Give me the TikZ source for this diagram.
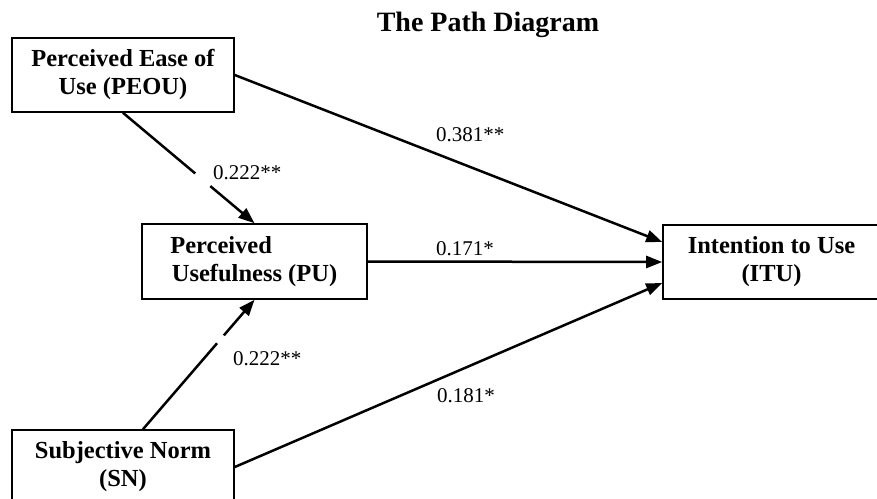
\documentclass[tikz,border=0pt]{standalone}
\usepackage{fontspec}
\setmainfont{Liberation Serif}
\usetikzlibrary{arrows.meta,calc}
\begin{document}
\begin{tikzpicture}[x=1pt,y=-1pt,
  box/.style={draw,line width=1.6pt,rectangle,align=center,inner sep=0pt,
    font=\fontsize{24.5}{28}\selectfont\bfseries},
  conn/.style={line width=2.5pt},
  arr/.style={conn,-{Triangle[length=16pt,width=12pt]}},
  lbl/.style={anchor=base west,inner sep=0pt,font=\fontsize{21}{24}\selectfont}]
\useasboundingbox (0,0) rectangle (877,498);
\clip (0,0) rectangle (877,498);
\fill[white] (0,0) rectangle (877,498);
\node[anchor=base,inner sep=0pt,font=\fontsize{28}{34}\selectfont\bfseries] (title) at (488,31) {The Path Diagram};
\node[box,minimum width=222pt,minimum height=74pt,text depth=6pt] (peou) at (123,75) {Perceived Ease of\\Use (PEOU)};
\node[box,minimum width=225pt,minimum height=75pt,text depth=6pt] (pu) at (254.5,261.5) {Perceived\hphantom{Useful}\\Usefulness (PU)};
\node[box,minimum width=217pt,minimum height=74pt,text depth=6pt] (itu) at (771.5,262) {Intention to Use\\(ITU)};
\node[box,minimum width=222pt,minimum height=74pt,text depth=6pt] (sn) at (123,467) {Subjective Norm\\(SN)};
% PEOU -> PU with gap
\coordinate (a1) at ($(peou.south)!0.549!(pu.north)$);
\coordinate (a2) at ($(peou.south)!0.664!(pu.north)$);
\draw[conn] (peou.south) -- (a1);
\draw[arr] (a2) -- (pu.north);
% SN -> PU with gap
\coordinate (snt) at ([xshift=20pt]sn.north);
\coordinate (b1) at ($(snt)!0.664!(pu.south)$);
\coordinate (b2) at ($(snt)!0.725!(pu.south)$);
\draw[conn] (snt) -- (b1);
\draw[arr] (b2) -- (pu.south);
% to ITU
\draw[arr] (peou.east) -- ([yshift=20pt]itu.west);
\draw[arr] (pu.east) -- (itu.west);
\draw[arr] (sn.east) -- ([yshift=-21pt]itu.west);
% labels
\node[lbl] (l1) at (436,141) {0.381**};
\node[lbl] (l2) at (436,255) {0.171*};
\node[lbl] (l3) at (437,402) {0.181*};
\node[lbl] (l4) at (213,179) {0.222**};
\node[lbl] (l5) at (233,365) {0.222**};
\end{tikzpicture}
\end{document}
